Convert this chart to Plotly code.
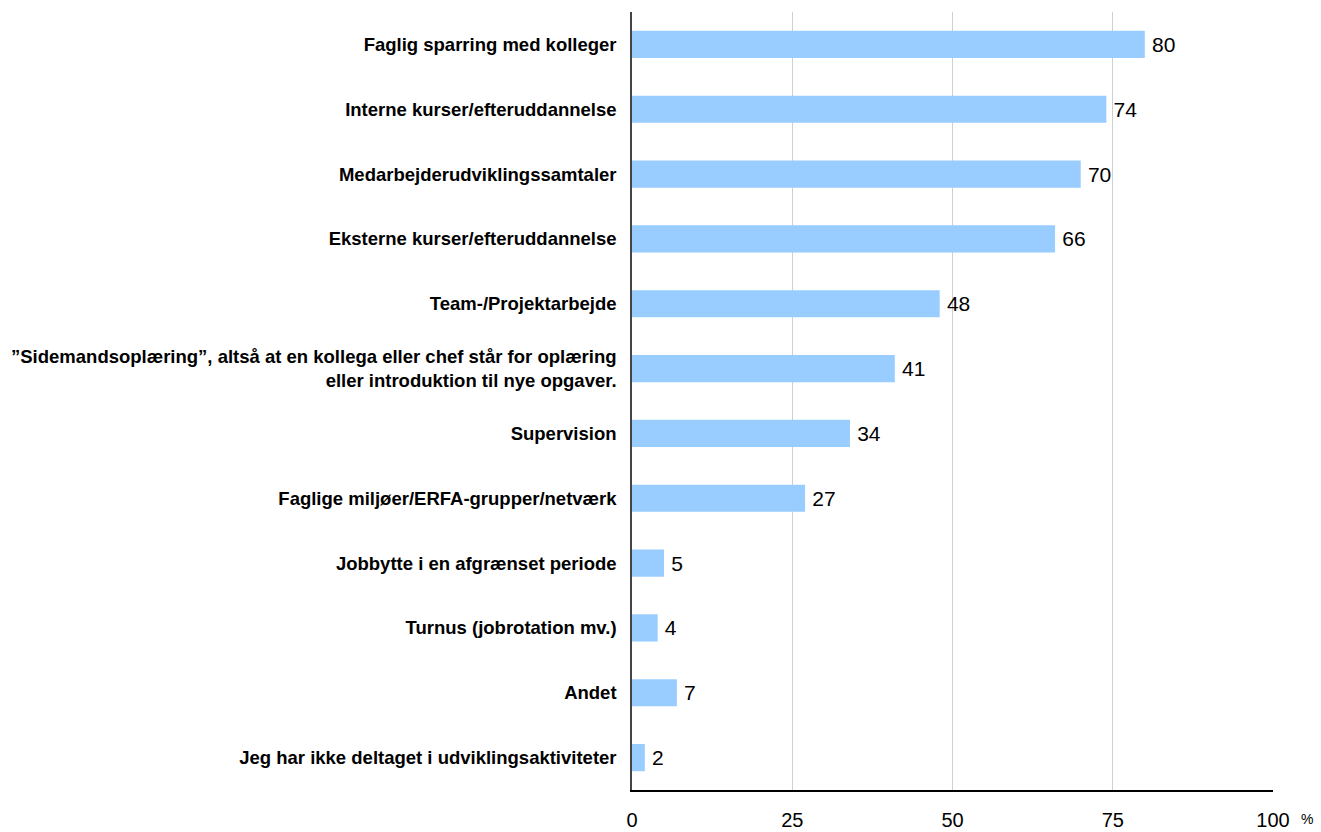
import plotly.graph_objects as go

categories = [
    "Faglig sparring med kolleger",
    "Interne kurser/efteruddannelse",
    "Medarbejderudviklingssamtaler",
    "Eksterne kurser/efteruddannelse",
    "Team-/Projektarbejde",
    "”Sidemandsoplæring”, altså at en kollega eller chef står for oplæring<br>eller introduktion til nye opgaver.",
    "Supervision",
    "Faglige miljøer/ERFA-grupper/netværk",
    "Jobbytte i en afgrænset periode",
    "Turnus (jobrotation mv.)",
    "Andet",
    "Jeg har ikke deltaget i udviklingsaktiviteter",
]
values = [80, 74, 70, 66, 48, 41, 34, 27, 5, 4, 7, 2]
x_ticks = [0, 25, 50, 75, 100]

fig = go.Figure(go.Bar(
    x=values,
    y=categories,
    orientation="h",
    marker=dict(color="#99CCFF", line=dict(width=0)),
    width=0.42,
    texttemplate="\u2009%{x}",
    textposition="outside",
    textfont=dict(family="Liberation Sans, Arial", size=21, color="black"),
    cliponaxis=False,
))

fig.update_layout(
    width=1321, height=832,
    margin=dict(l=632, r=48, t=12, b=42),
    paper_bgcolor="white",
    plot_bgcolor="white",
    showlegend=False,
    font=dict(family="Liberation Sans, Arial", color="black"),
)
fig.update_xaxes(
    range=[0, 100],
    tickvals=x_ticks,
    tickfont=dict(size=20),
    showgrid=True, gridcolor="#D0D0D0", gridwidth=1,
    zeroline=False,
    showline=True, linecolor="black", linewidth=1.5,
    ticks="", ticklabelstandoff=11,
    automargin=False,
)
fig.update_yaxes(
    autorange="reversed",
    tickfont=dict(size=18.5),
    showline=True, linecolor="#444444", linewidth=1.5,
    ticks="", ticklabelstandoff=10,
    tickprefix="<b>", ticksuffix="</b>",
    automargin=False,
)
fig.add_annotation(
    x=1, xref="paper", y=0, yref="paper",
    text="%", showarrow=False, xanchor="left", yanchor="top",
    xshift=26, yshift=-19, font=dict(size=14),
)

# page body has an 8px default margin; drop it so the figure fills the window
fig.write_html("out.html", config={"displayModeBar": False},
               post_script="document.body.style.margin='0';")
